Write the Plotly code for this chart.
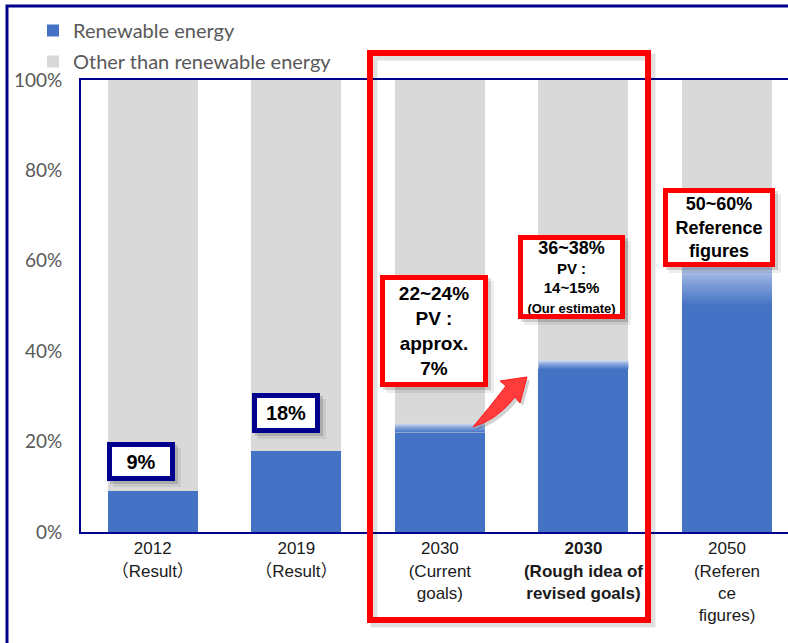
import plotly.graph_objects as go

# ---- data -------------------------------------------------------------
categories = [
    "2012<br>（Result）",
    "2019<br>（Result）",
    "2030<br>(Current<br>goals)",
    "<b>2030<br>(Rough idea of<br>revised goals)</b>",
    "2050<br>(Referen<br>ce<br>figures)",
]
renew_low = [9, 18, 22, 36, 50]     # renewable share, lower end (%)
renew_high = [9, 18, 24, 38, 60]    # renewable share, upper end (%)
pv_note = [None, None, "approx.<br>7%", "14~15%<br><span style='font-size:13px'>(Our estimate)</span>", None]
extra_note = [None, None, None, None, "Reference<br>figures"]
y_ticks = [0, 20, 40, 60, 80, 100]
y_tick_labels = [f"{v}%" for v in y_ticks]

BLUE = "#4472C4"
GRAY = "#D9D9D9"
NAVY = "#00008C"
RED = "#FF0000"

W, H = 788, 643
L, R, T, B = 81, 0, 80, 111
PW, PH = W - L - R, H - T - B


def P(x, y):
    """pixel position -> paper coordinates"""
    return (x - L) / PW, (H - B - y) / PH


def path_px(points, closed=True):
    parts = []
    for cmd, pts in points:
        coords = " ".join(f"{P(x, y)[0]:.5f},{P(x, y)[1]:.5f}" for x, y in pts)
        parts.append(f"{cmd} {coords}")
    return " ".join(parts) + (" Z" if closed else "")


idx = list(range(len(categories)))
bar_w = 0.627

fig = go.Figure()
fig.add_bar(x=idx, y=renew_low, name="Renewable energy", marker_color=BLUE,
            marker_line_width=0, width=bar_w, legendgroup="a", hoverinfo="skip")
fig.add_bar(x=idx, y=[100 - v for v in renew_low], name="Other than renewable energy",
            marker_color=GRAY, marker_line_width=0, width=bar_w, legendgroup="b",
            hoverinfo="skip")

# fading band over the range of each estimate
for i, (lo, hi) in enumerate(zip(renew_low, renew_high)):
    if hi > lo:
        fig.add_trace(go.Scatter(
            x=[i - bar_w / 2, i + bar_w / 2, i + bar_w / 2, i - bar_w / 2, i - bar_w / 2],
            y=[lo, lo, hi, hi, lo],
            fill="toself", mode="lines", line=dict(width=0),
            fillgradient=dict(type="vertical",
                              colorscale=[[0, BLUE], [0.55, "#86a3da"], [1, "#d3ddf2"]]),
            showlegend=False, hoverinfo="skip"))

shapes = []
annotations = []


def rect_px(x0, y0, x1, y1, **kw):
    a = P(x0, y0)
    b = P(x1, y1)
    return dict(type="rect", xref="paper", yref="paper", x0=a[0], y0=b[1], x1=b[0], y1=a[1], **kw)


# outer frame
shapes.append(rect_px(7, 6, 820, 680, line=dict(color=NAVY, width=3), layer="above"))

# highlight frame round both 2030 columns (with soft shadow)
shapes.append(rect_px(374, 57, 652, 624, line=dict(color="rgba(0,0,0,0.12)", width=7), layer="above"))
shapes.append(rect_px(370, 53, 648, 620, line=dict(color=RED, width=6), layer="above"))

# curved arrow between the two 2030 columns
arrow = [("M", [(473, 427)]),
         ("Q", [(497, 420), (515, 397)]),
         ("L", [(520, 403)]),
         ("L", [(527, 377)]),
         ("L", [(500, 381)]),
         ("L", [(506, 386)]),
         ("Q", [(489, 408), (473, 427)])]
arrow_shadow = [(c, [(x + 3, y + 3) for x, y in pts]) for c, pts in arrow]
shapes.append(dict(type="path", xref="paper", yref="paper", path=path_px(arrow_shadow),
                   fillcolor="rgba(0,0,0,0.18)", line=dict(width=0), layer="above"))
shapes.append(dict(type="path", xref="paper", yref="paper", path=path_px(arrow),
                   fillcolor="#FF3B3B", line=dict(color="#FF1A1A", width=1), layer="above"))

# value boxes: centre (px), outer size (px), border colour, font size
boxes = [
    ((141, 461.5), (68, 39), NAVY, 20),
    ((286, 413), (68, 40), NAVY, 20),
    ((434, 331), (108, 112), RED, 19),
    ((571.5, 277), (107, 84), RED, 15),
    ((719, 227.5), (112, 79), RED, 18),
]
bw = 5
for i, ((cx, cy), (ow, oh), col, fs) in enumerate(boxes):
    lo, hi = renew_low[i], renew_high[i]
    head = f"{lo}%" if lo == hi else f"{lo}~{hi}%"
    if i == 3:
        head = f"<span style='font-size:18px'>{head}</span>"
    lines = [head]
    if pv_note[i]:
        lines += ["PV :", pv_note[i]]
    if extra_note[i]:
        lines.append(extra_note[i])
    text = "<b>" + "<br>".join(lines) + "</b>"
    # soft shadow
    for off, alpha in ((3, 0.14), (6, 0.07)):
        shapes.append(rect_px(cx - ow / 2 + off, cy - oh / 2 + off, cx + ow / 2 + off, cy + oh / 2 + off,
                              fillcolor=f"rgba(0,0,0,{alpha})", line=dict(width=0), layer="above"))
    px_, py_ = P(cx, cy)
    annotations.append(dict(
        xref="paper", yref="paper", x=px_, y=py_, xanchor="center", yanchor="middle",
        text=text, showarrow=False, align="center", valign="middle",
        width=ow - 2 * bw, height=oh - 2 * bw, borderpad=0,
        bgcolor="white", bordercolor=col, borderwidth=bw,
        font=dict(family="Liberation Sans, Arial, sans-serif", size=fs, color="#000000")))

fig.update_layout(
    width=W, height=H,
    margin=dict(l=L, r=R, t=T, b=B, pad=0),
    paper_bgcolor="white", plot_bgcolor="white",
    barmode="stack", bargap=0,
    showlegend=True,
    legend=dict(x=P(33, 11)[0], y=P(33, 11)[1], xanchor="left", yanchor="top",
                traceorder="grouped", tracegroupgap=2, bgcolor="rgba(0,0,0,0)",
                font=dict(family="Lato, Noto Sans, sans-serif", size=20, color="#595959")),
    xaxis=dict(range=[-0.5, 4.425], tickvals=idx, ticktext=categories,
               showgrid=False, zeroline=False, showline=True, linecolor=NAVY, linewidth=2,
               mirror=True, ticks="", fixedrange=True,
               tickfont=dict(family="Liberation Sans, Arial, 'Noto Sans CJK JP', sans-serif",
                             size=17, color="#1a1a1a")),
    yaxis=dict(range=[0, 100], tickvals=y_ticks, ticktext=y_tick_labels,
               showgrid=False, zeroline=False, showline=True, linecolor=NAVY, linewidth=2,
               ticks="", ticklabelstandoff=13,
               tickfont=dict(family="Lato, Noto Sans, sans-serif", size=19, color="#595959")),
    shapes=shapes,
    annotations=annotations,
)

fig.write_html("out.html")
